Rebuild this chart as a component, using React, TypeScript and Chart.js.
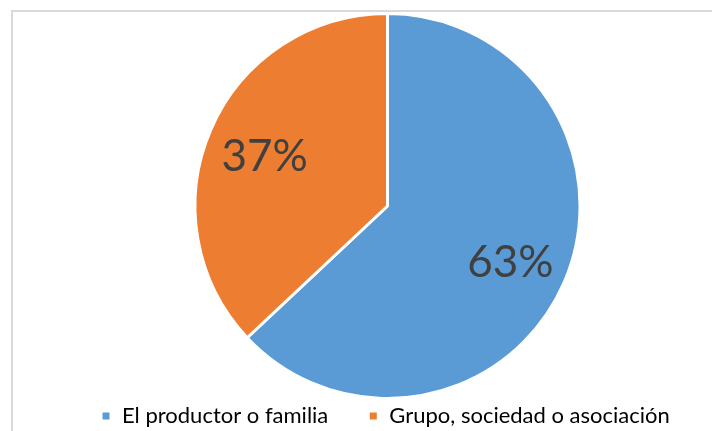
import React, { useEffect, useRef } from "react";
import { Chart, registerables } from "chart.js";

Chart.register(...registerables);

const categories = ["El productor o familia", "Grupo, sociedad o asociación"];
const values = [63, 37];
const colors = ["#5B9BD5", "#ED7D31"];

const FONT = "Lato, 'Open Sans', sans-serif";

const framePlugin = {
  id: "frame",
  beforeDraw(chart: any) {
    const ctx = chart.ctx;
    ctx.save();
    ctx.fillStyle = "#ffffff";
    ctx.fillRect(0, 0, chart.width, chart.height);
    ctx.strokeStyle = "#d9d9d9";
    ctx.lineWidth = 2;
    ctx.strokeRect(12, 11, 900, 600);
    ctx.restore();
  },
};

const labelPlugin = {
  id: "pctLabels",
  afterDatasetsDraw(chart: any) {
    const ctx = chart.ctx;
    const meta = chart.getDatasetMeta(0);
    const data = chart.data.datasets[0].data as number[];
    const total = data.reduce((a, b) => a + b, 0);
    ctx.save();
    ctx.fillStyle = "#404040";
    ctx.font = `44px ${FONT}`;
    ctx.textAlign = "center";
    ctx.textBaseline = "middle";
    meta.data.forEach((arc: any, i: number) => {
      const p = arc.getProps(["x", "y", "startAngle", "endAngle", "outerRadius"], true);
      const mid = (p.startAngle + p.endAngle) / 2;
      const d = p.outerRadius * 0.695;
      const x = p.x + Math.cos(mid) * d;
      const y = p.y + Math.sin(mid) * d + 4;
      ctx.fillText(Math.round((data[i] / total) * 100) + "%", x, y);
    });
    ctx.restore();
  },
};

export default function App() {
  const ref = useRef<HTMLCanvasElement>(null);
  useEffect(() => {
    if (!ref.current) return;
    const chart = new Chart(ref.current, {
      type: "pie",
      data: {
        labels: categories,
        datasets: [
          {
            data: values,
            backgroundColor: colors,
            borderColor: "#ffffff",
            borderWidth: 3,
            radius: 192.5,
          } as any,
        ],
      },
      options: {
        animation: false,
        responsive: false,
        maintainAspectRatio: false,
        layout: { padding: { left: 61, right: 0, top: 47, bottom: 0 } },
        plugins: {
          tooltip: { enabled: false },
          legend: {
            position: "bottom",
            align: "start",
            labels: {
              boxWidth: 10,
              boxHeight: 10,
              padding: 40,
              color: "#000000",
              font: { family: FONT, size: 22 },
            },
          },
        },
      },
      plugins: [framePlugin, labelPlugin],
    });
    return () => chart.destroy();
  }, []);
  return (
    <div style={{ position: "fixed", left: 0, top: 0, width: 712, height: 431, overflow: "hidden", background: "#fff" }}>
      <canvas ref={ref} width={714} height={437} style={{ display: "block", width: 714, height: 437 }} />
    </div>
  );
}
